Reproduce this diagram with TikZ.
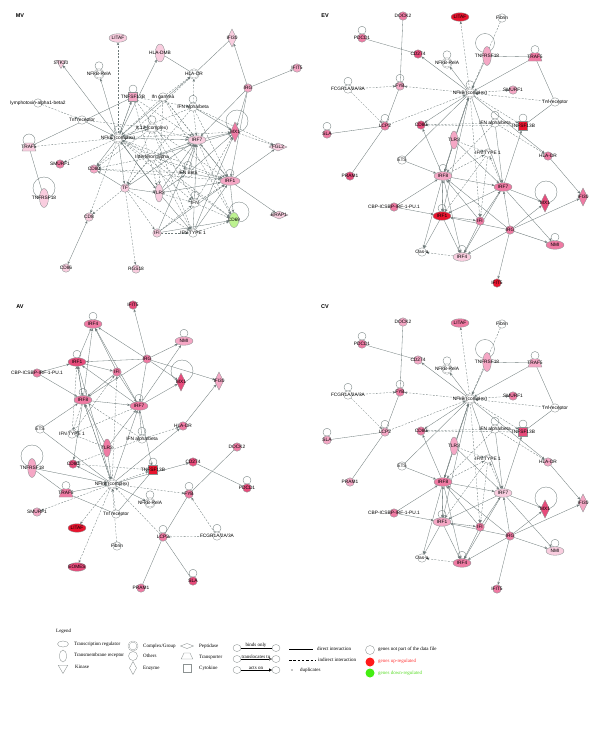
\documentclass[tikz,border=0pt]{standalone}
\usepackage{fontspec}
\setmainfont{Liberation Serif}
\newfontfamily\sansf{Liberation Sans}
\usetikzlibrary{shapes.geometric,arrows.meta}
\pgfdeclarelayer{bg}
\pgfsetlayers{bg,main}
\definecolor{ndraw}{HTML}{8C9292}
\definecolor{edgec}{HTML}{6E7A7A}
\definecolor{pk1}{HTML}{F9CDDF}
\definecolor{pk2}{HTML}{F5A7C5}
\definecolor{pk3}{HTML}{EF7AA3}
\definecolor{pk4}{HTML}{E74B7B}
\definecolor{pk5}{HTML}{E8142E}
\definecolor{grn}{HTML}{BDF290}
\definecolor{upred}{HTML}{FF1A1A}
\definecolor{dngreen}{HTML}{44EE11}
\definecolor{uptext}{HTML}{FF3333}
\definecolor{dntext}{HTML}{55DD22}
\tikzset{
 nb/.style={draw=ndraw, line width=0.35pt, inner sep=0pt, outer sep=0pt},
 cir/.style={nb, circle, minimum size=8.5pt},
 cpx/.style={nb, circle, minimum size=9.5pt, double=white, double distance=0.6pt},
 tr/.style={nb, ellipse, minimum width=18pt, minimum height=8.5pt},
 tm/.style={nb, ellipse, minimum width=7.5pt, minimum height=18pt},
 enz/.style={nb, diamond, minimum width=9pt, minimum height=18pt},
 pep/.style={nb, diamond, minimum width=18pt, minimum height=8pt},
 tra/.style={nb, trapezium, trapezium angle=70, inner sep=1pt, minimum width=11pt, minimum height=8pt},
 cyt/.style={nb, rectangle, minimum size=9pt},
 kin/.style={nb, regular polygon, regular polygon sides=3, shape border rotate=180, minimum size=11pt},
 lab/.style={font=\sansf\fontsize{4.8}{5}\selectfont, inner sep=0pt},
 ttl/.style={font=\sansf\bfseries\fontsize{5.5}{6}\selectfont, inner sep=0pt},
 ed/.style={draw=edgec, line width=0.32pt},
 dsh/.style={dash pattern=on 2pt off 1.4pt},
 tip/.style={-{Stealth[length=3pt,width=2.4pt]}},
 lgt/.style={font=\fontsize{5}{6}\selectfont, inner sep=0pt, anchor=west},
}
\newcommand\gn[6]{\node[#2,fill=#3] (#1) at (#4,#5) {};\node[lab] (#1-t) at (#1.center) {#6};}
\newcommand\eS[2]{\draw[ed,tip] (#1) -- (#2);}
\newcommand\eD[2]{\draw[ed,dsh,tip] (#1) -- (#2);}
\newcommand\eL[2]{\draw[ed] (#1) -- (#2);}
\newcommand\eLD[2]{\draw[ed,dsh] (#1) -- (#2);}
\newcommand\eB[2]{\draw[ed,{Stealth[length=3pt,width=2.4pt]}-{Stealth[length=3pt,width=2.4pt]}] (#1) -- (#2);}
\newcommand\lp[1]{\draw[ed] (#1.north) ++(0,-3.5) circle (4pt);}
\newcommand\blp[4]{\draw[ed] (#1) ++(#2,#3) circle (#4pt);}
% EV / CV shared layout
\newcommand\evnodes[1]{%
\gn{#1DOCK2}{cir}{#1DOCK2}{403}{16}{DOCK2}
\gn{#1LITAF}{tr}{#1LITAF}{460}{17}{LITAF}
\gn{#1FIB}{cir}{white}{502}{18}{Fibrin}
\gn{#1PDCD1}{cir}{#1PDCD1}{362}{38}{PDCD1}
\gn{#1CD274}{cir}{#1CD274}{418}{54}{CD274}
\gn{#1RELA}{cpx}{white}{447}{63}{NFkB-RelA}
\gn{#1TR18}{tm,minimum width=8.5pt,minimum height=19pt}{#1TR18}{487}{56}{TNFRSF18}
\gn{#1TRAF5}{tra}{#1TRAF5}{535}{57}{TRAF5}
\gn{#1FCGR}{cir}{white}{348}{89}{FCGR1A/2A/3A}
\gn{#1FYB}{cir}{#1FYB}{400}{86}{FYB}
\gn{#1NFKB}{cpx}{white}{470}{93}{NFkB (complex)}
\gn{#1SMURF1}{cir}{#1SMURF1}{513}{90}{SMURF1}
\gn{#1TNFR}{cir}{white}{555}{102}{Tnf receptor}
\gn{#1LCP2}{cir}{#1LCP2}{385}{126}{LCP2}
\gn{#1SLA}{cir}{#1SLA}{327}{134}{SLA}
\gn{#1CD80}{cir}{#1CD80}{421}{125}{CD80}
\gn{#1IFNAB}{cir}{white}{495}{123}{IFN alpha/beta}
\gn{#1TS13B}{cyt}{#1TS13B}{523}{126}{TNFSF13B}
\gn{#1TLR3}{tm}{#1TLR3}{454}{140}{TLR3}
\gn{#1IFNT1}{cir}{white}{488}{153}{IFN TYPE 1}
\gn{#1HLADR}{cir}{#1HLADR}{548}{156}{HLA-DR}
\gn{#1ETS}{cir}{white}{402}{160}{ETS}
\gn{#1PRAM1}{cir}{#1PRAM1}{350}{176}{PRAM1}
\gn{#1IRF8}{tr}{#1IRF8}{443}{176}{IRF8}
\gn{#1IRF7}{tr}{#1IRF7}{503}{187}{IRF7}
\gn{#1MX1}{enz}{#1MX1}{545}{203}{MX1}
\gn{#1IFI30}{enz}{#1IFI30}{583}{197}{IFI30}
\gn{#1CBP}{cir}{#1CBP}{394}{207}{CBP-ICSBP-IRF-1-PU.1}
\gn{#1IRF1}{tr}{#1IRF1}{442}{216}{IRF1}
\gn{#1IFI}{cir}{#1IFI}{480}{221}{IFI}
\gn{#1IRG}{cir}{#1IRG}{510}{230}{IRG}
\gn{#1NMI}{tr}{#1NMI}{555}{245}{NMI}
\gn{#1OAS}{cir}{white}{422}{252}{Oas-a}
\gn{#1IRF4}{tr}{#1IRF4}{462}{257}{IRF4}
\gn{#1IFIT5}{cir}{#1IFIT5}{497}{283}{IFIT5}
}
% shared edges for EV, AV, CV
\newcommand\netedges[1]{%
\eL{#1DOCK2}{#1FYB}
\eL{#1PDCD1}{#1CD274}
\eD{#1NFKB}{#1LITAF}
\eD{#1FIB}{#1NFKB}
\eS{#1NFKB}{#1CD274}
\eS{#1NFKB}{#1RELA}
\eS{#1TR18}{#1NFKB}
\eL{#1TR18}{#1TRAF5}
\eS{#1TRAF5}{#1NFKB}
\eL{#1TRAF5}{#1TNFR}
\eD{#1FCGR}{#1FYB}
\eD{#1FCGR}{#1LCP2}
\eL{#1FYB}{#1LCP2}
\eD{#1NFKB}{#1FYB}
\eD{#1NFKB}{#1SMURF1}
\eD{#1TNFR}{#1NFKB}
\eD{#1LCP2}{#1NFKB}
\eL{#1LCP2}{#1SLA}
\eL{#1LCP2}{#1PRAM1}
\eS{#1NFKB}{#1CD80}
\eD{#1TS13B}{#1CD80}
\eL{#1TNFR}{#1TS13B}
\eD{#1NFKB}{#1TS13B}
\eS{#1NFKB}{#1HLADR}
\eD{#1IFNAB}{#1HLADR}
\eD{#1IFNAB}{#1CD80}
\eS{#1TLR3}{#1NFKB}
\eS{#1TLR3}{#1IRF8}
\eS{#1TLR3}{#1IRF7}
\eD{#1TLR3}{#1IFNT1}
\eL{#1ETS}{#1NFKB}
\eS{#1ETS}{#1IRF8}
\eS{#1IRF8}{#1CD80}
\eS{#1IRF8}{#1NFKB}
\eD{#1NFKB}{#1IRF8}
\eS{#1IRF8}{#1IRF7}
\eS{#1IRF8}{#1IRF1}
\eS{#1IRF1}{#1IRF8}
\eS{#1IRF8}{#1IRF4}
\eD{#1IRF8}{#1IFNT1}
\eS{#1IRF7}{#1MX1}
\eS{#1IRF7}{#1NMI}
\eS{#1IRF7}{#1IRF1}
\eS{#1IRF7}{#1TS13B}
\eD{#1IRF7}{#1IFNT1}
\eS{#1NFKB}{#1IRF7}
\eS{#1IFNAB}{#1IRF7}
\eD{#1IFNAB}{#1IRF8}
\eS{#1IRG}{#1MX1}
\eS{#1IRG}{#1IFI30}
\eS{#1IRG}{#1NMI}
\eS{#1IRG}{#1IFIT5}
\eS{#1IRG}{#1IRF1}
\eS{#1IRG}{#1IRF4}
\eS{#1IRG}{#1IRF7}
\eS{#1IRG}{#1IRF8}
\eS{#1HLADR}{#1IFI30}
\eS{#1CBP}{#1IRF1}
\eS{#1CBP}{#1IRF8}
\eS{#1IFI}{#1IRF7}
\eS{#1IFI}{#1IRF8}
\eS{#1IFI}{#1IRF4}
\eS{#1IRF1}{#1IFI}
\eD{#1IFNT1}{#1IFI}
\eD{#1NFKB}{#1IFI}
\eS{#1NFKB}{#1IRF1}
\eD{#1IFNT1}{#1IRF1}
\eS{#1IRF1}{#1IRF4}
\eS{#1IRF7}{#1IRF4}
}
\newcommand\oasedges[1]{%
\eS{#1IRF1}{#1OAS}
\eS{#1IRF8}{#1OAS}
\eD{#1IRF4}{#1OAS}
}
\newcommand\evloops[1]{%
\lp{#1PDCD1}\lp{#1RELA}\lp{#1TRAF5}\lp{#1FCGR}\lp{#1FYB}\lp{#1LCP2}\lp{#1SLA}
\lp{#1IFNAB}\lp{#1TS13B}\lp{#1NMI}\lp{#1IRF1}\lp{#1IRF4}
\blp{#1TR18}{-2}{-13}{9.5}
\blp{#1MX1}{1}{-11}{11}
}
% colours per node
\newcommand\setc[2]{\colorlet{#1}{#2}}
\setc{eDOCK2}{pk3}\setc{eLITAF}{pk5}\setc{ePDCD1}{pk3}\setc{eCD274}{pk4}\setc{eTR18}{pk2}
\setc{eTRAF5}{pk3}\setc{eFYB}{pk2}\setc{eSMURF1}{pk2}\setc{eLCP2}{pk3}\setc{eSLA}{pk3}
\setc{eCD80}{pk4}\setc{eTS13B}{pk5}\setc{eTLR3}{pk2}\setc{eHLADR}{pk3}\setc{ePRAM1}{pk4}
\setc{eIRF8}{pk2}\setc{eIRF7}{pk3}\setc{eMX1}{pk4}\setc{eIFI30}{pk3}\setc{eCBP}{pk3}
\setc{eIRF1}{pk5}\setc{eIFI}{pk3}\setc{eIRG}{pk3}\setc{eNMI}{pk3}\setc{eIRF4}{pk1}\setc{eIFIT5}{pk5}
\setc{cDOCK2}{pk2}\setc{cLITAF}{pk3}\setc{cPDCD1}{pk3}\setc{cCD274}{pk2}\setc{cTR18}{pk2}
\setc{cTRAF5}{pk2}\setc{cFYB}{pk3}\setc{cSMURF1}{pk3}\setc{cLCP2}{pk2}\setc{cSLA}{pk2}
\setc{cCD80}{pk3}\setc{cTS13B}{pk4}\setc{cTLR3}{pk2}\setc{cHLADR}{pk2}\setc{cPRAM1}{pk2}
\setc{cIRF8}{pk3}\setc{cIRF7}{pk1}\setc{cMX1}{pk4}\setc{cIFI30}{pk2}\setc{cCBP}{pk3}
\setc{cIRF1}{pk2}\setc{cIFI}{pk3}\setc{cIRG}{pk3}\setc{cNMI}{pk1}\setc{cIRF4}{pk3}\setc{cIFIT5}{pk3}
\begin{document}
\begin{tikzpicture}[x=1pt,y=-1pt]
\useasboundingbox (0,0) rectangle (600,739);
\begin{pgfonlayer}{bg}
\fill[white] (0,0) rectangle (600,739);
\end{pgfonlayer}
% ---------------- titles
\node[ttl] (tMV) at (20,16) {MV};
\node[ttl] (tEV) at (325,16) {EV};
\node[ttl] (tAV) at (20,307) {AV};
\node[ttl] (tCV) at (325,307) {CV};
% ---------------- MV nodes
\gn{mLITAF}{tr}{pk1}{118}{38}{LITAF}
\gn{mHLADMB}{tm,minimum width=9.5pt}{pk1}{160}{53}{HLA-DMB}
\gn{mIFI30}{enz}{pk1}{232}{38}{IFI30}
\gn{mSTK10}{kin}{pk1}{61}{63}{STK10}
\gn{mRELA}{cpx}{white}{99}{74}{NFkB-RelA}
\gn{mHLADR}{cpx}{white}{194}{74}{HLA-DR}
\gn{mIRG}{cir}{pk2}{248}{88}{IRG}
\gn{mIFIT5}{cir}{pk2}{297}{68}{IFIT5}
\gn{mTS13B}{cyt}{pk2}{133}{97}{TNFSF13B}
\gn{mIFNG}{cir}{white}{163}{97}{Ifn gamma}
\gn{mIFNAB}{cir}{white}{193}{107}{IFN alpha/beta}
\gn{mLTAB}{cir}{white}{38}{103}{lymphotoxin-alpha1-beta2}
\gn{mTNFR}{cir}{white}{82}{120}{Tnf receptor}
\gn{mNFKB}{cpx}{white}{118}{138}{NFkB (complex)}
\gn{mIL12}{cpx}{white}{152}{128}{IL12 (complex)}
\gn{mIFNA}{cir}{white}{152}{157}{Interferon alpha}
\gn{mIRF7}{tr}{pk1}{197}{140}{IRF7}
\gn{mMX1}{enz,minimum height=20pt}{pk3}{235}{132}{MX1}
\gn{mFGL2}{pep}{pk1}{278}{147}{FGL2}
\gn{mTRAF5}{tra}{pk1}{29}{147}{TRAF5}
\gn{mSMURF1}{cir}{pk3}{60}{164}{SMURF1}
\gn{mCD80}{cir}{pk2}{94}{169}{CD80}
\gn{mIFNB}{cir}{white}{188}{173}{IFN Beta}
\gn{mIRF1}{tr,minimum width=20pt}{pk2}{230}{181}{IRF1}
\gn{mTR18}{tm,minimum width=9pt,minimum height=19pt}{pk1}{44}{198}{TNFRSF18}
\gn{mTF}{cir}{pk1}{125}{188}{TF}
\gn{mTLR3}{tm}{pk1}{159}{193}{TLR3}
\gn{mIFN}{cir}{white}{195}{203}{IFN}
\gn{mCD69}{tm,minimum width=9.5pt,minimum height=15pt}{grn}{234}{220}{CD69}
\gn{mCD8}{cir}{pk1}{89}{217}{CD8}
\gn{mERAP1}{pep}{pk1}{279}{215}{ERAP1}
\gn{mIFI}{cir}{pk1}{157}{233}{IFI}
\gn{mIFNT1}{cir}{white}{193}{233}{IFN TYPE 1}
\gn{mCD86}{cir}{pk1}{66}{268}{CD86}
\gn{mRGS18}{cir}{pk1}{136}{269}{RGS18}
% ---------------- EV nodes
\evnodes{e}
% ---------------- CV nodes
\begin{scope}[yshift=-306pt]
\evnodes{c}
\end{scope}
% ---------------- AV nodes
\gn{aIFIT5}{cir}{pk4}{133}{305}{IFIT5}
\gn{aIRF4}{tr}{pk3}{93}{324}{IRF4}
\gn{aNMI}{tr}{pk2}{184}{341}{NMI}
\gn{aIRG}{cir}{pk3}{147}{359}{IRG}
\gn{aIRF1}{tr}{pk4}{77}{362}{IRF1}
\gn{aCBP}{cir}{pk3}{37}{373}{CBP-ICSBP-IRF-1-PU.1}
\gn{aIFI}{cir}{pk3}{117}{372}{IFI}
\gn{aMX1}{enz}{pk4}{181}{382}{MX1}
\gn{aIFI30}{enz}{pk2}{219}{381}{IFI30}
\gn{aIRF8}{tr}{pk3}{83}{400}{IRF8}
\gn{aIRF7}{tr}{pk3}{139}{406}{IRF7}
\gn{aETS}{cir}{white}{40}{429}{ETS}
\gn{aIFNT1}{cir}{white}{72}{434}{IFN TYPE 1}
\gn{aIFNAB}{cir}{white}{142}{439}{IFN alpha/beta}
\gn{aHLADR}{cir}{pk3}{183}{426}{HLA-DR}
\gn{aTLR3}{tm}{pk3}{107}{448}{TLR3}
\gn{aDOCK2}{cir}{pk3}{237}{447}{DOCK2}
\gn{aCD80}{cir}{pk4}{73}{464}{CD80}
\gn{aTR18}{tm,minimum width=8.5pt,minimum height=19pt}{pk2}{32}{468}{TNFRSF18}
\gn{aTS13B}{cyt}{pk5}{153}{470}{TNFSF13B}
\gn{aCD274}{cir}{pk4}{193}{462}{CD274}
\gn{aNFKB}{cpx}{white}{112}{484}{NFkB (complex)}
\gn{aPDCD1}{cir}{pk4}{247}{488}{PDCD1}
\gn{aTRAF5}{tra}{pk3}{66}{493}{TRAF5}
\gn{aFYB}{cir}{pk3}{189}{494}{FYB}
\gn{aSMURF1}{cir}{pk2}{37}{512}{SMURF1}
\gn{aRELA}{cpx}{white}{150}{503}{NFkB-RelA}
\gn{aTNFR}{cir}{white}{116}{514}{Tnf receptor}
\gn{aLITAF}{tr}{pk5}{77}{528}{LITAF}
\gn{aFCGR}{cir}{white}{217}{536}{FCGR1A/2A/3A}
\gn{aLCP2}{cir}{pk3}{163}{537}{LCP2}
\gn{aFIB}{cir}{white}{117}{546}{Fibrin}
\gn{aEOMES}{tr}{pk4}{77}{567}{EOMES}
\gn{aSLA}{cir}{pk4}{193}{581}{SLA}
\gn{aPRAM1}{cir}{pk3}{141}{588}{PRAM1}
% ---------------- edges
\begin{pgfonlayer}{bg}
% MV
\eD{mNFKB}{mLITAF}
\eS{mNFKB}{mHLADMB}
\eL{mHLADMB}{mHLADR}
\eS{mIRG}{mIFI30}
\eL{mIFI30}{mHLADR}
\eS{mIRG}{mIFIT5}
\eS{mNFKB}{mSTK10}
\eS{mNFKB}{mRELA}
\eS{mNFKB}{mHLADR}
\eD{mIFNG}{mHLADR}
\eD{mIFNAB}{mHLADR}
\eS{mTS13B}{mNFKB}
\eD{mNFKB}{mTS13B}
\eL{mTRAF5}{mTS13B}
\eD{mLTAB}{mTNFR}
\eS{mTNFR}{mNFKB}
\eD{mTNFR}{mIL12}
\eD{mTRAF5}{mNFKB}
\eL{mTRAF5}{mTR18}
\eD{mNFKB}{mSMURF1}
\eS{mNFKB}{mCD80}
\eD{mIL12}{mCD80}
\eD{mIFNA}{mCD80}
\eD{mIRF1}{mCD80}
\eS{mTF}{mCD80}
\eD{mNFKB}{mCD8}
\eD{mTF}{mCD8}
\eB{mCD8}{mCD86}
\eD{mTF}{mRGS18}
\eS{mIRF1}{mERAP1}
\eS{mIRF1}{mFGL2}
\eD{mMX1}{mFGL2}
\eD{mIFNAB}{mFGL2}
\eS{mIRG}{mIRF7}
\eS{mIRG}{mMX1}
\eS{mIRG}{mIRF1}
\eS{mNFKB}{mIRF7}
\eD{mNFKB}{mIRF1}
\eS{mNFKB}{mIL12}
\eD{mIFNG}{mNFKB}
\eD{mIFNAB}{mNFKB}
\eS{mNFKB}{mTLR3}
\eS{mTLR3}{mNFKB}
\eD{mNFKB}{mIFN}
\eD{mIFNA}{mNFKB}
\eS{mNFKB}{mTF}
\eD{mIFNB}{mNFKB}
\eD{mNFKB}{mCD69}
\eD{mNFKB}{mMX1}
\eS{mIRF7}{mMX1}
\eS{mIRF1}{mIRF7}
\eD{mIFNAB}{mIRF7}
\eS{mIFNAB}{mMX1}
\eD{mIFNAB}{mIRF1}
\eD{mIFNG}{mIRF1}
\eD{mIFNG}{mIRF7}
\eD{mIL12}{mIRF7}
\eD{mIL12}{mIFN}
\eS{mIFNA}{mIRF7}
\eS{mIFNA}{mMX1}
\eD{mIFNA}{mIRF1}
\eS{mIFNB}{mIRF7}
\eS{mIFNB}{mIRF1}
\eS{mIFNB}{mMX1}
\eD{mIFN}{mIRF1}
\eD{mIFN}{mMX1}
\eD{mIFN}{mCD69}
\eS{mIFNT1}{mIRF7}
\eS{mIFNT1}{mIRF1}
\eS{mIFNT1}{mMX1}
\eD{mIFNT1}{mCD69}
\eS{mIRF1}{mCD69}
\eD{mIRF7}{mCD69}
\eS{mTLR3}{mIRF7}
\eS{mTLR3}{mIRF1}
\eS{mTLR3}{mIFNT1}
\eS{mTLR3}{mIFNB}
\eD{mTLR3}{mIFN}
\eS{mTF}{mTLR3}
\eD{mTF}{mIFI}
\eD{mTF}{mIFNT1}
\eS{mIFI}{mIRF7}
\eS{mIFI}{mIRF1}
\eD{mIFI}{mIFNT1}
\eD{mIFI}{mIFN}
\eS{mIFI}{mCD69}
\eD{mTS13B}{mIFNB}
\eD{mTS13B}{mIRF7}
\eD{mTS13B}{mTLR3}
\eD{mTS13B}{mIFNAB}
\eD{mIFNG}{mTLR3}
\eD{mIL12}{mTF}
\eD{mIFNA}{mTF}
\eD{mIFNA}{mIFNT1}
\eD{mIL12}{mIFNT1}
\eD{mIFNG}{mCD69}
\eD{mIFNAB}{mTF}
\eD{mIL12}{mIRF1}
\eD{mIFNA}{mCD69}
\eD{mCD80}{mIFNB}
\eS{mTF}{mIRF7}
\eD{mHLADR}{mCD80}
\lp{mRELA}\lp{mTS13B}\lp{mIFNAB}\lp{mNFKB}\lp{mIL12}\lp{mIRF1}\lp{mIFNB}\lp{mIFN}
\blp{mTRAF5}{0}{-7}{6}
\blp{mTR18}{0}{-10}{11}
\blp{mMX1}{2}{-11}{11}
\blp{mCD69}{5}{-8}{10}
% EV, CV, AV
\netedges{e}\oasedges{e}\evloops{e}\lp{eIRF8}\lp{eNFKB}
\netedges{c}\oasedges{c}\evloops{c}
\netedges{a}
\eD{aNFKB}{aEOMES}
\lp{aIRF4}\lp{aNMI}\lp{aIRF1}\lp{aIRF8}\lp{aIRF7}\lp{aIFNAB}\lp{aTS13B}
\lp{aPDCD1}\lp{aTRAF5}\lp{aFYB}\lp{aRELA}\lp{aFCGR}\lp{aLCP2}\lp{aSLA}
\blp{aTR18}{0}{-12}{11}
\blp{aMX1}{1}{-11}{11}
\end{pgfonlayer}
% ---------------- legend
\node[lgt] (lgT) at (56,631) {Legend};
\node[nb,ellipse,minimum width=11pt,minimum height=6pt] (lgS1) at (63,644) {};
\node[lgt] (lgS1t) at (74,644) {Transcription regulator};
\node[nb,ellipse,minimum width=7pt,minimum height=12pt] (lgS2) at (63,656) {};
\node[lgt] (lgS2t) at (74,655) {Transmembrane receptor};
\node[nb,regular polygon,regular polygon sides=3,shape border rotate=180,minimum size=11pt] (lgS3) at (63,668) {};
\node[lgt] (lgS3t) at (75,667) {Kinase};
\node[nb,circle,minimum size=9pt,double=white,double distance=0.6pt] (lgS4) at (133,646) {};
\node[lgt] (lgS4t) at (143,646) {Complex/Group};
\node[nb,circle,minimum size=9pt] (lgS5) at (133,656) {};
\node[lgt] (lgS5t) at (143,656) {Others};
\node[nb,diamond,minimum width=7pt,minimum height=13pt] (lgS6) at (133,668) {};
\node[lgt] (lgS6t) at (143,668) {Enzyme};
\node[nb,diamond,minimum width=13pt,minimum height=5pt] (lgS7) at (187,646) {};
\node[lgt] (lgS7t) at (199,646) {Peptidase};
\node[nb,trapezium,trapezium angle=65,inner sep=1pt,minimum width=10pt,minimum height=6pt] (lgS8) at (187,656) {};
\node[lgt] (lgS8t) at (199,657) {Transporter};
\node[nb,rectangle,minimum size=8pt] (lgS9) at (187,668) {};
\node[lgt] (lgS9t) at (199,668) {Cytokine};
% relation types
\node[nb,ellipse,minimum width=8pt,minimum height=7pt] (lgA1) at (237,648) {};
\node[nb,ellipse,minimum width=8pt,minimum height=7pt] (lgB1) at (276,648) {};
\draw[black,line width=0.3pt] (lgA1) -- (lgB1);
\node[lgt,anchor=south] (lgA1t) at (256,647.5) {binds only};
\node[nb,ellipse,minimum width=8pt,minimum height=7pt] (lgA2) at (237,659) {};
\node[nb,ellipse,minimum width=8pt,minimum height=7pt] (lgB2) at (276,659) {};
\draw[black,line width=0.3pt,-{Triangle[open,length=3pt,width=3pt]}] (lgA2) -- (lgB2);
\node[lgt,anchor=south] (lgA2t) at (256,658.5) {translocates to};
\node[nb,ellipse,minimum width=8pt,minimum height=7pt] (lgA3) at (237,670) {};
\node[nb,ellipse,minimum width=8pt,minimum height=7pt] (lgB3) at (276,670) {};
\draw[black,line width=0.3pt,-{Triangle[length=3pt,width=3pt]}] (lgA3) -- (lgB3);
\node[lgt,anchor=south] (lgA3t) at (256,669.5) {acts on};
\coordinate (lgL1a) at (289,649); \coordinate (lgL1b) at (313,649);
\draw[black,line width=0.3pt] (lgL1a) -- (lgL1b);
\node[lgt] (lgL1t) at (317,649) {direct interaction};
\coordinate (lgL2a) at (289,660); \coordinate (lgL2b) at (315,660);
\draw[black,line width=0.3pt,dash pattern=on 2.5pt off 1.8pt] (lgL2a) -- (lgL2b);
\node[lgt] (lgL2t) at (318,660) {indirect interaction};
\node[fill=black,circle,inner sep=0pt,minimum size=1.3pt] (lgDot) at (292,670) {};
\node[lgt] (lgDt) at (300,670) {duplicates};
\node[nb,circle,minimum size=9pt] (lgC1) at (370,650) {};
\node[lgt] (lgC1t) at (378,649) {genes not part of the data file};
\node[circle,fill=upred,minimum size=9pt,inner sep=0pt] (lgC2) at (370,662) {};
\node[lgt,text=uptext] (lgC2t) at (378,661) {genes up-regulated};
\node[circle,fill=dngreen,minimum size=9pt,inner sep=0pt] (lgC3) at (370,673) {};
\node[lgt,text=dntext] (lgC3t) at (378,673) {genes down-regulated};
\end{tikzpicture}
\end{document}
